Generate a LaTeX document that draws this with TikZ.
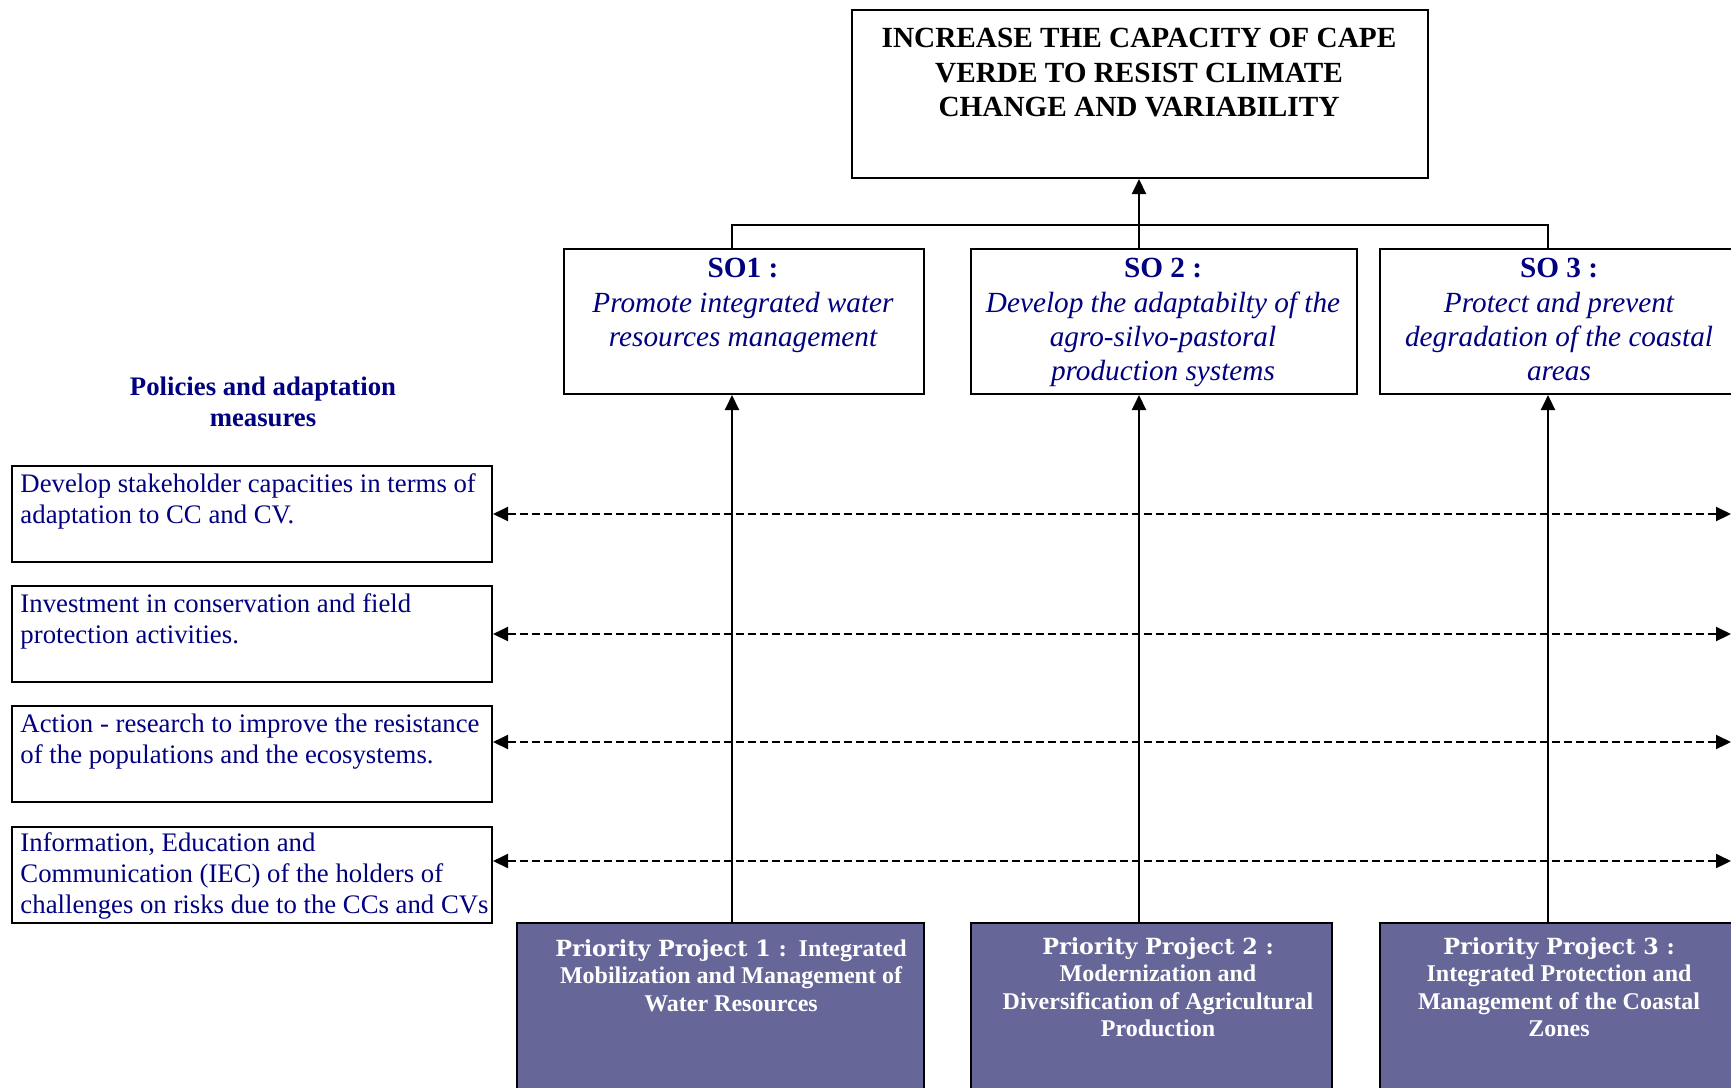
\documentclass[tikz,border=0pt]{standalone}
\usepackage{fontspec}
\setmainfont{Liberation Serif}
\newfontfamily\ppfont{DejaVu Serif}
\usetikzlibrary{arrows.meta}
\definecolor{ppfill}{RGB}{102,102,153}
\definecolor{navytxt}{RGB}{0,0,128}
\tikzset{
  box/.style={draw, line width=0.8pt, inner sep=0pt, anchor=north west},
  boxtext/.style={inner sep=0pt, anchor=north, align=center},
  sotext/.style={boxtext, text=navytxt, font=\fontsize{11.7}{13.7}\selectfont\itshape},
  poltext/.style={inner sep=0pt, anchor=north west, align=left, text=navytxt, font=\fontsize{10.7}{12.4}\selectfont},
  pptext/.style={boxtext, text=white, font=\fontsize{9.6}{11}\selectfont\bfseries},
  arr/.style={line width=0.8pt, -{Triangle[length=6pt,width=5.6pt]}},
  dasharr/.style={line width=0.8pt, dash pattern=on 3.2pt off 1.6pt, {Triangle[length=6pt,width=5.6pt]}-{Triangle[length=6pt,width=5.6pt]}}
}
\newcommand{\pphead}[1]{{\ppfont\fontsize{8.9}{11}\selectfont\bfseries #1}}

\begin{document}
\begin{tikzpicture}[x=0.4pt, y=-0.4pt]
\useasboundingbox (0,0) rectangle (1731,1087);
\clip (0,0) rectangle (1731,1087);

\node[box, minimum width=230.4pt, minimum height=67.2pt] (goal) at (851,9) {};
\node[boxtext, font=\fontsize{11.7}{13.7}\selectfont\bfseries] (goaltext) at (1139,28) {INCREASE THE CAPACITY OF CAPE\\VERDE TO RESIST CLIMATE\\CHANGE AND VARIABILITY};

\node[box, minimum width=144pt, minimum height=58pt] (so1) at (563,248) {};
\node[sotext] (so1text) at (743,258) {\textup{\textbf{SO1 :}}\\Promote integrated water\\resources management};
\node[box, minimum width=154.4pt, minimum height=58pt] (so2) at (970,248) {};
\node[sotext] (so2text) at (1163,258) {\textup{\textbf{SO 2 :}}\\Develop the adaptabilty of the\\agro-silvo-pastoral\\production systems};
\node[box, minimum width=144pt, minimum height=58pt] (so3) at (1379,248) {};
\node[sotext] (so3text) at (1559,258) {\textup{\textbf{SO 3 :}}\\Protect and prevent\\degradation of the coastal\\areas};

\coordinate (bus1) at (732,225);
\coordinate (bus2) at (1139,225);
\coordinate (bus3) at (1548,225);
\draw[line width=0.8pt] (bus1 |- so1.north) -- (bus1) -- (bus3) -- (bus3 |- so3.north);
\draw[line width=0.8pt] (bus2 |- so2.north) -- (bus2);
\draw[arr] (bus2) -- (bus2 |- goal.south);

\node[boxtext, text=navytxt, font=\fontsize{10.7}{12.4}\selectfont\bfseries] (polhead) at (263,376) {Policies and adaptation\\measures};

\node[box, minimum width=192pt, minimum height=38.4pt] (pol1) at (11,465) {};
\node[poltext] (pol1text) at (20,473) {Develop stakeholder capacities in terms of\\adaptation to CC and CV.};
\node[box, minimum width=192pt, minimum height=38.4pt] (pol2) at (11,585) {};
\node[poltext] (pol2text) at (20,593) {Investment in conservation and field\\protection activities.};
\node[box, minimum width=192pt, minimum height=38.4pt] (pol3) at (11,705) {};
\node[poltext] (pol3text) at (20,713) {Action - research to improve the resistance\\of the populations and the ecosystems.};
\node[box, minimum width=192pt, minimum height=38.4pt] (pol4) at (11,826) {};
\node[poltext] (pol4text) at (20,832) {Information, Education and\\Communication (IEC) of the holders of\\challenges on risks due to the CCs and CVs};

\coordinate (rim) at (1731,0);
\draw[dasharr] (pol1.east) -- (pol1.east -| rim);
\draw[dasharr] (pol2.east) -- (pol2.east -| rim);
\draw[dasharr] ([yshift=4.8pt]pol3.east) -- ([yshift=4.8pt]pol3.east -| rim);
\draw[dasharr] ([yshift=5.6pt]pol4.east) -- ([yshift=5.6pt]pol4.east -| rim);

\node[box, fill=ppfill, minimum width=162.8pt, minimum height=80pt] (pp1) at (516,922) {};
\node[pptext] (pp1text) at (731,939) {\pphead{Priority Project 1 :}\ \ Integrated\\Mobilization and Management of\\Water Resources};
\node[box, fill=ppfill, minimum width=144.4pt, minimum height=80pt] (pp2) at (970,922) {};
\node[pptext] (pp2text) at (1158,937) {\pphead{Priority Project 2 :}\\Modernization and\\Diversification of Agricultural\\Production};
\node[box, fill=ppfill, minimum width=144pt, minimum height=80pt] (pp3) at (1379,922) {};
\node[pptext] (pp3text) at (1559,937) {\pphead{Priority Project 3 :}\\Integrated Protection and\\Management of the Coastal\\Zones};

\draw[arr] (bus1 |- pp1.north) -- (bus1 |- so1.south);
\draw[arr] (bus2 |- pp2.north) -- (bus2 |- so2.south);
\draw[arr] (bus3 |- pp3.north) -- (bus3 |- so3.south);

\end{tikzpicture}
\end{document}
